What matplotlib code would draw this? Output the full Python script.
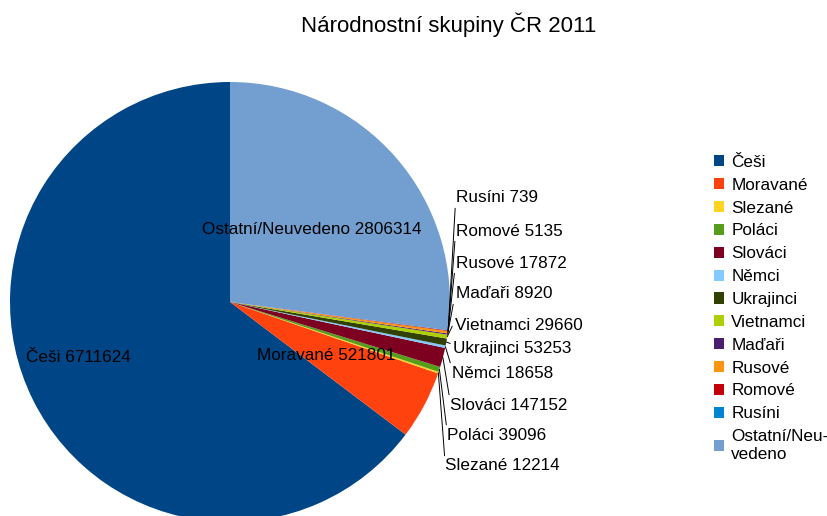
import numpy as np
import matplotlib
matplotlib.use("Agg")
import matplotlib.pyplot as plt
from matplotlib.patches import Patch

plt.rcParams['font.family'] = ['Liberation Sans', 'DejaVu Sans']

categories = ["Češi", "Moravané", "Slezané", "Poláci", "Slováci", "Němci",
              "Ukrajinci", "Vietnamci", "Maďaři", "Rusové", "Romové", "Rusíni",
              "Ostatní/Neuvedeno"]
values = [6711624, 521801, 12214, 39096, 147152, 18658,
          53253, 29660, 8920, 17872, 5135, 739, 2806314]
legend_labels = ["Češi", "Moravané", "Slezané", "Poláci", "Slováci", "Němci",
                 "Ukrajinci", "Vietnamci", "Maďaři", "Rusové", "Romové", "Rusíni",
                 "Ostatní/Neu-\nvedeno"]
colors = ["#004586", "#ff420e", "#ffd320", "#579d1c", "#7e0021", "#83caff",
          "#314004", "#aecf00", "#4b1f6f", "#ff950e", "#c5000b", "#0084d1",
          "#729fcf"]

W, H = 827, 516
CX, CY, R = 230, 302, 220  # pie centre / radius in pixels (from top)

fig = plt.figure(figsize=(W / 100, H / 100), dpi=100)
ax = fig.add_axes([0, 0, 1, 1])

wedges, _ = ax.pie(values, colors=colors, startangle=90, counterclock=True,
                   radius=1.0, center=(0, 0), frame=True)
ax.set_xlim(-CX / R, (W - CX) / R)
ax.set_ylim(-(H - CY) / R, CY / R)
ax.set_aspect('auto')
ax.axis('off')


def px(x, y):
    return ((x - CX) / R, (CY - y) / R)


FS = 12.3
# inside labels
inside = {0: (78, 357), 1: (326, 355), 12: (312, 230)}
for i, (x, y) in inside.items():
    ax.text(*px(x, y), f"{categories[i]} {values[i]}", ha='center', va='center',
            fontsize=FS, color='black')

# outside labels with leader lines: index -> (left x, centre y) in pixels
outside = {11: (456, 198), 10: (456, 231), 9: (456, 263), 8: (456, 294),
           7: (455, 325), 6: (453, 349), 5: (452, 373), 4: (450, 405),
           3: (447, 435), 2: (445, 466)}
total = sum(values)
cum = np.cumsum([0] + values)
for i, (x, y) in outside.items():
    mid = 90 + 360 * (cum[i] + values[i] / 2) / total
    ex, ey = np.cos(np.radians(mid)), np.sin(np.radians(mid))
    ax.annotate(f"{categories[i]} {values[i]}", xy=(ex, ey), xytext=px(x, y),
                ha='left', va='center', fontsize=FS, color='black',
                arrowprops=dict(arrowstyle='-', color='black', lw=0.7,
                                shrinkA=0, shrinkB=0, relpos=(0, 0.8)))

fig.text(449 / W, 1 - 25 / H, "Národnostní skupiny ČR 2011", ha='center',
         va='center', fontsize=16)

handles = [Patch(facecolor=c, edgecolor='none') for c in colors]
leg = fig.legend(handles, legend_labels, loc='upper left',
                 bbox_to_anchor=(707 / W, 1 - 148 / H), frameon=False,
                 fontsize=FS, handlelength=0.62, handleheight=0.62,
                 handletextpad=0.4, labelspacing=0.46, borderaxespad=0)

fig.savefig("out.png", dpi=100)
